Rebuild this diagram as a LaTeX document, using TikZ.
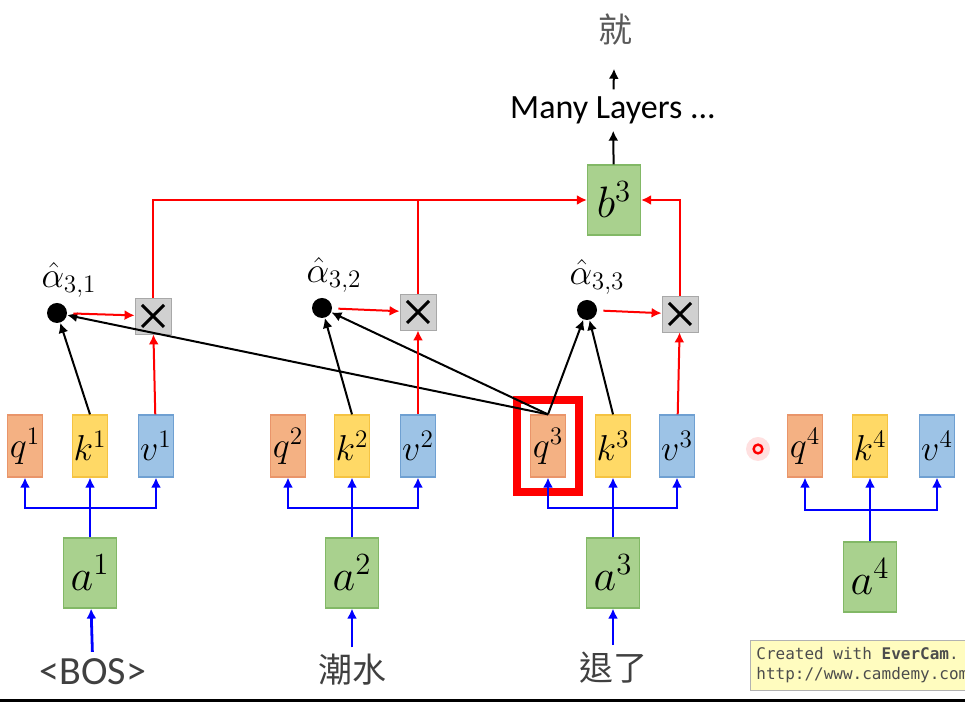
\RequirePackage{fix-cm}
\documentclass[tikz,border=0pt]{standalone}
\usepackage{fontspec}
\setmainfont{Carlito}
\newfontfamily\cjkfont{Noto Sans CJK TC}
\newfontfamily\wmfont{DejaVu Sans Mono}
\usetikzlibrary{arrows.meta,positioning,fit}
\usepackage{xcolor}
\definecolor{qfill}{HTML}{F4B183}
\definecolor{qdraw}{HTML}{E9956A}
\definecolor{kfill}{HTML}{FFD966}
\definecolor{kdraw}{HTML}{F5C342}
\definecolor{vfill}{HTML}{9DC3E6}
\definecolor{vdraw}{HTML}{6FA0D2}
\definecolor{gfill}{HTML}{A9D18E}
\definecolor{gdraw}{HTML}{82B866}
\definecolor{mfill}{HTML}{D0D0D0}
\definecolor{mdraw}{HTML}{A8A8A8}
\definecolor{dark}{HTML}{404040}
\tikzset{
  cell/.style={draw, line width=0.6pt, minimum width=17.5pt, minimum height=31pt, inner sep=0pt, font=\fontsize{18}{20}\selectfont},
  qbox/.style={cell, draw=qdraw, fill=qfill},
  kbox/.style={cell, draw=kdraw, fill=kfill},
  vbox/.style={cell, draw=vdraw, fill=vfill},
  abox/.style={cell, draw=gdraw, fill=gfill, minimum width=26.5pt, minimum height=35pt, font=\fontsize{22}{24}\selectfont},
  mulbox/.style={draw=mdraw, fill=mfill, minimum size=18pt, inner sep=0pt,
    path picture={\draw[black, line width=1.5pt]
      ([shift={(-5.5pt,-5.5pt)}]path picture bounding box.center) -- ([shift={(5.5pt,5.5pt)}]path picture bounding box.center)
      ([shift={(-5.5pt,5.5pt)}]path picture bounding box.center) -- ([shift={(5.5pt,-5.5pt)}]path picture bounding box.center);}},
  dotnode/.style={circle, fill=black, minimum size=10pt, inner sep=0pt},
  alabel/.style={label distance=-1pt, font=\fontsize{18}{20}\selectfont},
  word/.style={font=\fontsize{17}{20}\selectfont, text=dark},
  redline/.style={draw=red, line width=1pt},
  redarrow/.style={redline, -{Latex[length=5pt,width=5pt]}},
  blueline/.style={draw=blue, line width=1.4pt},
  bluearrow/.style={blueline, -{Latex[length=5pt,width=5pt]}},
  blackarrow/.style={draw=black, line width=1pt, -{Latex[length=5pt,width=5pt]}}
}
\begin{document}
\begin{tikzpicture}[x=0.5pt, y=-0.5pt]
  \useasboundingbox (0,0) rectangle (965,704);
  % input words and embeddings
  \node[word, font=\fontsize{20}{22}\selectfont] (w1) at (93,672) {<BOS>};
  \node[word] (w2) at (352,670) {\cjkfont 潮水};
  \node[word] (w3) at (613,668) {\cjkfont 退了};
  \node[abox] (a1) at (90,573) {$a^1$};
  \node[abox] (a2) at (352,573) {$a^2$};
  \node[abox] (a3) at (613,573) {$a^3$};
  \node[abox] (a4) at (870,577) {$a^4$};
  % q, k, v
  \node[qbox] (q1) at (25,446) {$q^1$};
  \node[kbox] (k1) at (90,446) {$k^1$};
  \node[vbox] (v1) at (156,446) {$v^1$};
  \node[qbox] (q2) at (288,446) {$q^2$};
  \node[kbox] (k2) at (352,446) {$k^2$};
  \node[vbox] (v2) at (418,446) {$v^2$};
  \node[qbox] (q3) at (548,446) {$q^3$};
  \node[kbox] (k3) at (613,446) {$k^3$};
  \node[vbox] (v3) at (677,446) {$v^3$};
  \node[qbox] (q4) at (805,446) {$q^4$};
  \node[kbox] (k4) at (870,446) {$k^4$};
  \node[vbox] (v4) at (937,446) {$v^4$};
  \node[draw=red, line width=4pt, fit=(q3), inner xsep=6.5pt, inner ysep=7pt] (hl) {};
  % attention scores and weighting
  \node[dotnode, label={[alabel, xshift=6pt]above:$\hat{\alpha}_{3,1}$}] (d1) at (57,313) {};
  \node[dotnode, label={[alabel, xshift=6pt]above:$\hat{\alpha}_{3,2}$}] (d2) at (322,308) {};
  \node[dotnode, label={[alabel, xshift=5pt]above:$\hat{\alpha}_{3,3}$}] (d3) at (587,310) {};
  \node[mulbox] (m1) at (153,316) {};
  \node[mulbox] (m2) at (418,312) {};
  \node[mulbox] (m3) at (680,314) {};
  \node[abox] (b3) at (614,200) {$b^3$};
  \node[font=\fontsize{17}{20}\selectfont] (layers) at (613,110) {Many Layers ...};
  \node[word, text=black!65] (out) at (615,30) {\cjkfont 就};
  % connectors
  \coordinate (j1) at (90,508);
  \coordinate (j2) at (352,508);
  \coordinate (j3) at (613,508);
  \coordinate (j4) at (870,510);
  \draw[bluearrow] (w1) -- (a1);
  \draw[bluearrow] (w2) -- (a2);
  \draw[bluearrow] (w3) -- (a3);
  \draw[blueline] (a1) -- (j1);
  \draw[blueline] (a2) -- (j2);
  \draw[blueline] (a3) -- (j3);
  \draw[blueline] (a4) -- (j4);
  \draw[bluearrow] (j1) -| (q1.south);
  \draw[bluearrow] (j1) -- (k1.south);
  \draw[bluearrow] (j1) -| (v1.south);
  \draw[bluearrow] (j2) -| (q2.south);
  \draw[bluearrow] (j2) -- (k2.south);
  \draw[bluearrow] (j2) -| (v2.south);
  \draw[bluearrow] (j3) -| (q3.south);
  \draw[bluearrow] (j3) -- (k3.south);
  \draw[bluearrow] (j3) -| (v3.south);
  \draw[bluearrow] (j4) -| (q4.south);
  \draw[bluearrow] (j4) -- (k4.south);
  \draw[bluearrow] (j4) -| (v4.south);
  \draw[blackarrow] (k1.north) -- (d1);
  \draw[blackarrow] (q3.north) -- (d1);
  \draw[blackarrow] (k2.north) -- (d2);
  \draw[blackarrow] (q3.north) -- (d2);
  \draw[blackarrow] (q3.north) -- (d3);
  \draw[blackarrow] (k3.north) -- (d3);
  \draw[redarrow, shorten <=3pt] (d1) -- (m1);
  \draw[redarrow, shorten <=3pt] (d2) -- (m2);
  \draw[redarrow, shorten <=3pt] (d3) -- (m3);
  \draw[redarrow] (v1) -- (m1);
  \draw[redarrow] (v2) -- (m2);
  \draw[redarrow] (v3) -- (m3);
  \draw[redarrow] (m1.north) |- (b3.west);
  \draw[redline] (m2.north) -- (m2.north |- b3.west);
  \draw[redarrow] (m3.north) |- (b3.east);
  \draw[blackarrow] (b3) -- (layers);
  \draw[blackarrow, shorten >=8pt] (layers) -- (out);
  % screen recording overlay
  \fill[red!12] (758,449) circle (6pt);
  \draw[red, line width=1.2pt] (758,449) circle (2.2pt);
  \node[draw=gray!60, fill=yellow!25, anchor=west, align=left, inner sep=3pt, text=black!70, font=\wmfont\fontsize{8}{10}\selectfont, minimum height=25pt] (wm) at (750,665) {Created with \textbf{EverCam}.\\http://www.camdemy.com};
  \draw[line width=1.5pt] (0,701) -- (965,701);
\end{tikzpicture}
\end{document}
